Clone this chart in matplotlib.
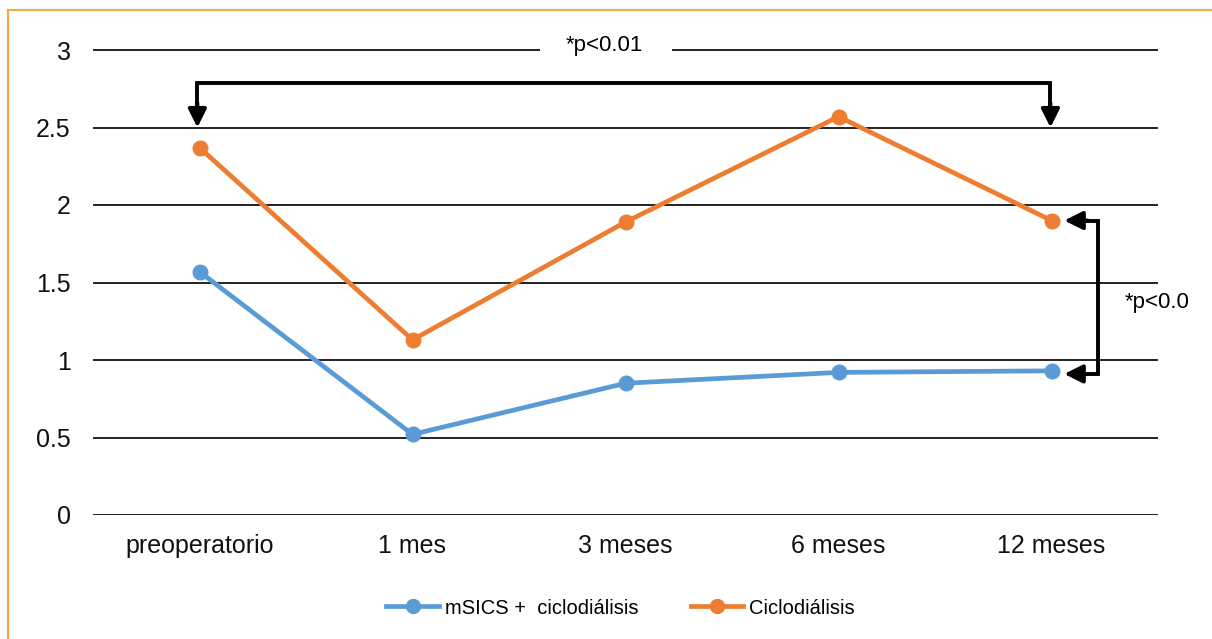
import matplotlib.pyplot as plt
from matplotlib.lines import Line2D

plt.rcParams['font.family'] = ['Liberation Sans', 'DejaVu Sans']

categories = ['preoperatorio', '1 mes', '3 meses', '6 meses', '12 meses']
msics_ciclo = [1.57, 0.52, 0.85, 0.92, 0.93]
ciclo = [2.37, 1.13, 1.89, 2.57, 1.90]
yticks = [0, 0.5, 1, 1.5, 2, 2.5, 3]

blue = '#5b9bd5'
orange = '#ed7d31'

fig = plt.figure(figsize=(12.12, 6.39), dpi=100)
ax = fig.add_axes([93 / 1212, (639 - 515) / 639, 1065 / 1212, 465 / 639])

x = range(len(categories))
ax.set_xlim(-0.5, len(categories) - 0.5)
ax.set_ylim(0, 3)

# horizontal grid; the top line leaves room for the p-value label
for y in yticks[:-1]:
    ax.axhline(y, color='#222222', lw=1.4, zorder=1)
ax.hlines(3, -0.5, 1.6, color='#222222', lw=1.4, clip_on=False)
ax.hlines(3, 2.22, 4.5, color='#222222', lw=1.4, clip_on=False)

ax.plot(x, msics_ciclo, color=blue, lw=3.4, marker='o', ms=10.5, clip_on=False, zorder=3)
ax.plot(x, ciclo, color=orange, lw=3.4, marker='o', ms=10.5, clip_on=False, zorder=3)

for s in ax.spines.values():
    s.set_visible(False)
ax.set_yticks(yticks)
ax.set_yticklabels(['0', '0.5', '1', '1.5', '2', '2.5', '3'])
ax.set_xticks(list(x))
ax.set_xticklabels(categories)
ax.tick_params(length=0, labelsize=18, colors='#111111')
ax.tick_params(axis='y', pad=16)
ax.tick_params(axis='x', pad=14)

arrow = dict(arrowstyle='-|>,head_length=1.1,head_width=0.55',
             color='black', lw=2.8, shrinkA=0, shrinkB=0)

# bracket: preoperatorio vs 12 meses (orange series)
top = 2.79
ax.plot([-0.01, -0.01, 3.995, 3.995], [2.64, top, top, 2.64], color='black', lw=2.8,
        solid_joinstyle='miter', zorder=4)
for xa in (-0.01, 3.995):
    ax.annotate('', xy=(xa, 2.5), xytext=(xa, 2.66), arrowprops=arrow)
ax.text(1.9, 3.03, '*p<0.01', ha='center', va='center', fontsize=16)

# bracket: groups at 12 meses
xv = 4.22
ax.plot([4.15, xv, xv, 4.15], [ciclo[4], ciclo[4], msics_ciclo[4] - 0.02, msics_ciclo[4] - 0.02],
        color='black', lw=2.8, solid_joinstyle='miter', clip_on=False, zorder=4)
for ya in (ciclo[4], msics_ciclo[4] - 0.02):
    ax.annotate('', xy=(4.06, ya), xytext=(4.17, ya), arrowprops=arrow,
                annotation_clip=False)
ax.text(4.345, 1.37, '*p<0.0', ha='left', va='center', fontsize=16)

handles = [Line2D([], [], color=blue, lw=3.4, marker='o', ms=10),
           Line2D([], [], color=orange, lw=3.4, marker='o', ms=10)]
fig.legend(handles, ['mSICS +  ciclodiálisis', 'Ciclodiálisis'], loc='center',
           bbox_to_anchor=(0.512, (639 - 608) / 639), ncol=2, frameon=False,
           fontsize=14.5, handlelength=2.6, columnspacing=2.6, handletextpad=0.3)

# orange frame on the top and left edges
fig.add_artist(Line2D([8 / 1212, 8 / 1212], [0, 1 - 9.5 / 639], color='#f5a84a', lw=1.5))
fig.add_artist(Line2D([8 / 1212, 1], [1 - 9.5 / 639, 1 - 9.5 / 639], color='#f5a84a', lw=1.5))

fig.savefig('out.png', dpi=100)
